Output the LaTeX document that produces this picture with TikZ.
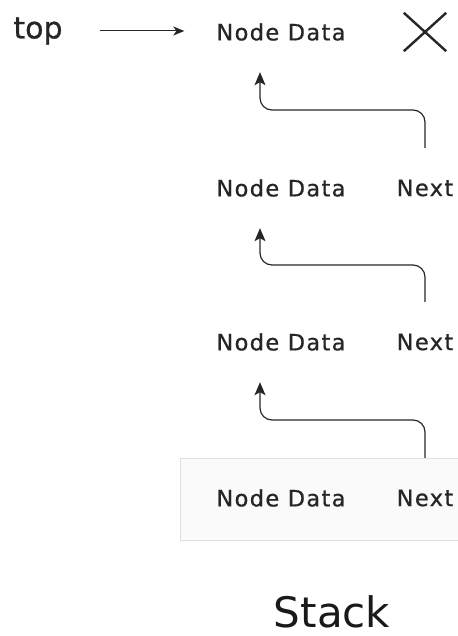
\documentclass[tikz,border=0pt]{standalone}
\usepackage{fontspec}
\setmainfont{DejaVu Sans}
\usetikzlibrary{arrows.meta, shapes.misc, calc}

\begin{document}
\begin{tikzpicture}[x=1pt, y=-1pt,
        field/.style={inner sep=0pt, minimum height=24pt, text=black!85,
            font=\fontsize{22.5}{26}\selectfont\addfontfeature{LetterSpace=6, FakeBold=0.8}},
        link/.style={-{Stealth[length=13pt, width=11pt, inset=3pt]}, line width=1.2pt, black!85,
            rounded corners=12pt, shorten <=28pt, shorten >=28pt}]
        \useasboundingbox (0,0) rectangle (457,636);

        % faint box round the last element
        \draw[gray!25, fill=gray!4] (180,458) rectangle (470,540);

        \node[inner sep=0pt, text=black!85,
            font=\fontsize{30}{34}\selectfont\addfontfeature{FakeBold=0.8}] (top) at (38,31) {top};
        \node[field] (data1) at (281,32) {Node Data};
        \node[cross out, draw, line width=2.4pt, black!85, minimum width=40pt,
            minimum height=36pt, inner sep=0pt] (nil) at (425,32) {};
        \foreach \k/\y in {2/188, 3/342, 4/498} {
            \node[field] (data\k) at (281,\y) {Node Data};
            \node[field] (next\k) at (425,\y) {Next};
        }

        \draw[-{Stealth[length=11pt, width=9pt, inset=3pt]}, line width=1pt, black!85,
            shorten <=37pt, shorten >=32pt] (top) -- (top -| data1.west);

        % each Next points up to the element above
        \foreach \k/\j in {1/2, 2/3, 3/4}
            \draw[link] (next\j.north) |- ($(data\k.south)!0.5!(next\j.north)$)
                -| ([xshift=-21pt]data\k.south);

        \node[anchor=base, inner sep=0pt, text=black!90, font=\fontsize{42}{48}\selectfont] (title) at (332,627) {Stack};
\end{tikzpicture}
\end{document}
